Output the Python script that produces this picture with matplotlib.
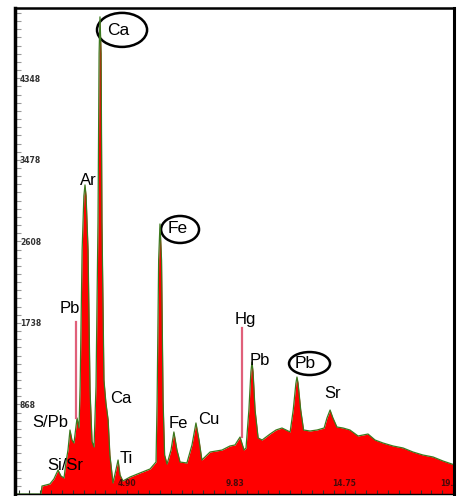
import numpy as np
import matplotlib.pyplot as plt
from matplotlib.patches import Ellipse
from matplotlib.transforms import blended_transform_factory

# XRF spectrum, energy (keV) vs counts
energy_kev = [-0.16, 1.02, 1.06, 1.42, 1.60, 1.79, 1.92, 2.06, 2.15, 2.24,
              2.33, 2.42, 2.51, 2.65, 2.74, 2.79, 2.88, 2.96, 3.01, 3.06,
              3.15, 3.24, 3.33, 3.42, 3.51, 3.60, 3.65, 3.69, 3.74, 3.78,
              3.87, 3.96, 4.06, 4.14, 4.28, 4.41, 4.51, 4.60, 4.73, 5.05,
              5.50, 5.96, 6.23, 6.28, 6.35, 6.41, 6.48, 6.55, 6.62, 6.73,
              6.91, 7.04, 7.18, 7.32, 7.63, 7.86, 8.04, 8.18, 8.31, 8.68,
              9.22, 9.58, 9.81, 10.04, 10.22, 10.31, 10.44, 10.53, 10.58, 10.63,
              10.72, 10.86, 11.04, 11.40, 11.67, 11.94, 12.31, 12.45, 12.57, 12.62,
              12.67, 12.79, 12.92, 13.21, 13.53, 13.85, 13.98, 14.12, 14.25, 14.43,
              14.71, 15.02, 15.39, 15.84, 16.16, 16.52, 16.98, 17.43, 17.88, 18.33,
              18.79, 19.24, 19.78]
counts = [0, 0, 85, 107, 160, 256, 192, 171, 341, 469,
          683, 576, 544, 811, 704, 1150, 2600, 3180, 3297, 3180,
          2600, 1100, 560, 501, 1150, 2900, 4700, 5090, 4700, 2900,
          1216, 971, 790, 416, 117, 256, 363, 203, 139, 181,
          224, 267, 341, 1000, 2500, 2881, 2500, 1000, 416, 320,
          469, 662, 469, 341, 331, 523, 758, 576, 363, 448,
          469, 512, 523, 608, 469, 491, 896, 1300, 1408, 1300,
          896, 598, 576, 640, 683, 704, 662, 896, 1180, 1248,
          1180, 896, 683, 672, 683, 704, 811, 896, 811, 715,
          704, 683, 619, 640, 576, 544, 512, 491, 448, 416,
          395, 352, 309]

# element labels: text, energy, counts
peak_labels = ["Ar", "Pb", "S/Pb", "Si/Sr", "Ca", "Ti", "Fe", "Cu", "Hg", "Pb", "Sr"]
label_e = [3.15, 2.33, 1.42, 2.10, 4.65, 4.87, 7.23, 8.63, 10.26, 10.94, 14.25]
label_c = [3340, 1974, 758, 299, 1014, 384, 747, 800, 1857, 1419, 1067]

# circled labels: text, text pos, ellipse centre and size
circled_labels = ["Ca", "Fe", "Pb"]
circled_text_e = [4.51, 7.23, 12.98]
circled_text_c = [4940, 2828, 1387]
circled_e = [4.69, 7.32, 13.19]
circled_c = [4951, 2822, 1392]
circled_w = [2.27, 1.72, 1.86]
circled_h = [363, 288, 245]

# marker lines (energy, bottom, top)
marker_e = [2.61, 10.13]
marker_lo = [811, 608]
marker_hi = [1835, 1771]

y_tick_labels = [868, 1738, 2608, 3478, 4348]
x_tick_labels = [4.90, 9.83, 14.75, 19.66]

fig = plt.figure(figsize=(4.57, 4.96), dpi=100)
ax = fig.add_axes([0.0339, 0.004, 0.9606, 0.979])
ax.set_xlim(-0.14, 19.76)
ax.set_ylim(0, 5180)

ax.fill_between(energy_kev, counts, 0, color='#ff0000', lw=0)
ax.plot(energy_kev, counts, color='#3c7a1e', lw=0.9)

for e, lo, hi in zip(marker_e, marker_lo, marker_hi):
    ax.plot([e, e], [lo, hi], color='#e0607a', lw=1.6)

font = 'Liberation Sans'
for t, e, c in zip(peak_labels, label_e, label_c):
    ax.text(e, c, t, ha='center', va='center', fontsize=12, family=font)

for t, te, tc, e, c, w, h in zip(circled_labels, circled_text_e, circled_text_c,
                                 circled_e, circled_c, circled_w, circled_h):
    ax.text(te, tc, t, ha='center', va='center', fontsize=12.5, family=font)
    ax.add_patch(Ellipse((e, c), w, h, fill=False, ec='black', lw=1.8))

# axis ticks and in-plot tick labels
ax.set_yticks(np.arange(868 - 87 * 9, 5180, 87))
ax.set_xticks(np.arange(0, 19.8, 0.4925))
ax.tick_params(axis='y', direction='in', length=4, width=0.8, color='#999999',
               labelleft=False)
ax.tick_params(axis='x', direction='in', length=3, width=0.8, color='#333333',
               labelbottom=False)

ytrans = blended_transform_factory(ax.transAxes, ax.transData)
for v in y_tick_labels:
    ax.annotate(str(v), (0.010, v), xycoords=ytrans, xytext=(0, 2),
                textcoords='offset points', ha='left', va='bottom',
                fontsize=5.5, fontweight='bold', color='#333333')

xtrans = blended_transform_factory(ax.transData, ax.transAxes)
for v in x_tick_labels:
    ax.text(v, 0.022, f"{v:.2f}", transform=xtrans, ha='center', va='center',
            fontsize=5.5, fontweight='bold', color='#4a0a0a', clip_on=True)

ax.spines['left'].set_linewidth(2.5)
ax.spines['top'].set_linewidth(1.8)
ax.spines['right'].set_linewidth(2.2)
ax.spines['bottom'].set_linewidth(1.0)

fig.savefig('out.png', dpi=100)
